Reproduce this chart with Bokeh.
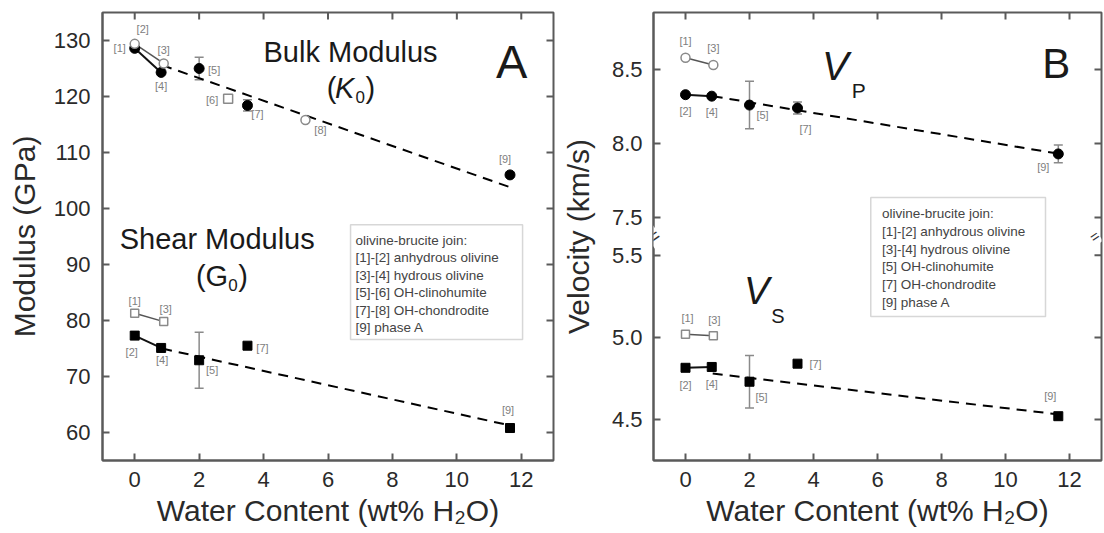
import math
from bokeh.plotting import figure
from bokeh.models import (Range1d, FixedTicker, BoxAnnotation, Whisker,
                          ColumnDataSource, TeeHead, Label)
from bokeh.layouts import row
from bokeh.embed import file_html
from bokeh.resources import INLINE
from bokeh.core.properties import value

FONT = "Liberation Sans"

# ---------------- data ----------------
x_ticks = [0, 2, 4, 6, 8, 10, 12]
modulus_ticks = [60, 70, 80, 90, 100, 110, 120, 130]
vp_ticks = [7.5, 8.0, 8.5]
vs_ticks = [4.5, 5.0, 5.5]

# Bulk modulus K0 (GPa)
bulk_open_ids = ["[1]", "[3]", "[6]", "[8]"]
bulk_open_x = [0.0, 0.9, 2.9, 5.3]
bulk_open_y = [129.4, 125.9, 119.6, 115.8]
bulk_open_marker = ["circle", "circle", "square", "circle"]
bulk_fill_ids = ["[2]", "[4]", "[5]", "[7]", "[9]"]
bulk_fill_x = [0.0, 0.82, 2.0, 3.5, 11.65]
bulk_fill_y = [128.6, 124.3, 125.0, 118.4, 106.0]
bulk_fill_err = [0, 0, 2.0, 1.0, 0]
bulk_trend_x = [0.85, 11.7]
bulk_trend_y = [125.6, 103.7]

# Shear modulus G0 (GPa)
shear_open_ids = ["[1]", "[3]"]
shear_open_x = [0.0, 0.9]
shear_open_y = [81.3, 79.8]
shear_fill_ids = ["[2]", "[4]", "[5]", "[7]", "[9]"]
shear_fill_x = [0.0, 0.82, 2.0, 3.5, 11.65]
shear_fill_y = [77.3, 75.1, 72.9, 75.5, 60.8]
shear_fill_err = [0, 0, 5.0, 0, 0]
shear_trend_x = [0.85, 11.7]
shear_trend_y = [75.0, 61.2]

# Vp (km/s)
vp_open_ids = ["[1]", "[3]"]
vp_open_x = [0.0, 0.87]
vp_open_y = [8.58, 8.53]
vp_fill_ids = ["[2]", "[4]", "[5]", "[7]", "[9]"]
vp_fill_x = [0.0, 0.82, 2.0, 3.5, 11.65]
vp_fill_y = [8.33, 8.32, 8.26, 8.24, 7.93]
vp_fill_err = [0, 0, 0.16, 0.04, 0.06]
vp_trend_x = [0.85, 11.7]
vp_trend_y = [8.32, 7.93]

# Vs (km/s)
vs_open_ids = ["[1]", "[3]"]
vs_open_x = [0.0, 0.87]
vs_open_y = [5.02, 5.01]
vs_fill_ids = ["[2]", "[4]", "[5]", "[7]", "[9]"]
vs_fill_x = [0.0, 0.82, 2.0, 3.5, 11.65]
vs_fill_y = [4.815, 4.82, 4.73, 4.84, 4.52]
vs_fill_err = [0, 0, 0.16, 0, 0]
vs_trend_x = [0.85, 11.7]
vs_trend_y = [4.78, 4.53]

legend_A = ["olivine-brucite join:", "[1]-[2] anhydrous olivine", "[3]-[4] hydrous olivine",
            "[5]-[6] OH-clinohumite", "[7]-[8] OH-chondrodite", "[9] phase A"]
legend_B = ["olivine-brucite join:", "[1]-[2] anhydrous olivine", "[3]-[4] hydrous olivine",
            "[5] OH-clinohumite", "[7] OH-chondrodite", "[9] phase A"]

# ---------------- styling helpers ----------------
AX = "#5a5a5a"
TXT = "#2a2a2a"
LBL = "#808080"


def style_axis(ax, standoff=12, label_standoff=8):
    ax.axis_line_color = AX
    ax.axis_line_width = 2
    ax.major_tick_in = 7
    ax.major_tick_out = 0
    ax.major_tick_line_color = AX
    ax.major_tick_line_width = 2
    ax.minor_tick_line_color = None
    ax.major_label_text_font = FONT
    ax.major_label_text_font_size = "22px"
    ax.major_label_text_color = TXT
    ax.axis_label_text_font = FONT
    ax.axis_label_text_font_size = "30px"
    ax.axis_label_text_font_style = "normal"
    ax.axis_label_text_color = TXT
    ax.major_label_standoff = standoff
    ax.axis_label_standoff = label_standoff


def mirror_ticks(p, xt, yt, range_name="default"):
    """inward tick marks on the top and right frame edges"""
    yr = p.extra_y_ranges[range_name] if range_name != "default" else p.y_range
    p.ray(x=xt, y=[yr.end] * len(xt), length=7, length_units="screen", angle=-math.pi / 2,
          line_color=AX, line_width=2, y_range_name=range_name)
    p.ray(x=[p.x_range.end] * len(yt), y=yt, length=7, length_units="screen", angle=math.pi,
          line_color=AX, line_width=2, y_range_name=range_name)


def draw_series(p, ids, xs, ys, offsets, marker_kw, range_name="default", errs=None, markers=None):
    data = dict(x=xs, y=ys, t=ids, dx=[o[0] for o in offsets], dy=[o[1] for o in offsets])
    if markers is not None:
        data["m"] = markers
    if errs is not None:
        esrc = ColumnDataSource(dict(x=[x for x, e in zip(xs, errs) if e > 0],
                                     lo=[y - e for y, e in zip(ys, errs) if e > 0],
                                     hi=[y + e for y, e in zip(ys, errs) if e > 0]))
        w = Whisker(source=esrc, base="x", lower="lo", upper="hi", dimension="height",
                    line_color="#8a8a8a", line_width=1.5, level="underlay",
                    upper_head=TeeHead(size=9, line_color="#8a8a8a", line_width=1.5),
                    lower_head=TeeHead(size=9, line_color="#8a8a8a", line_width=1.5))
        w.y_range_name = range_name
        p.add_layout(w)
    src = ColumnDataSource(data)
    p.scatter(x="x", y="y", source=src, marker=("m" if markers is not None else marker_kw.pop("marker")),
              y_range_name=range_name, **marker_kw)
    p.text(x="x", y="y", text="t", x_offset="dx", y_offset="dy", source=src,
           y_range_name=range_name, text_font=value(FONT), text_font_size="11px",
           text_color=LBL, text_align="center", text_baseline="middle")


def pair_line(p, xs, ys, color, width, range_name="default"):
    p.line(xs[:2], ys[:2], line_color=color, line_width=width, y_range_name=range_name)


def trend(p, xs, ys, range_name="default"):
    p.line(xs, ys, line_color="black", line_width=2, line_dash="10 7", y_range_name=range_name)


def legend_box(p, left, right, top, bottom, tx, ty, lines, spacing):
    p.add_layout(BoxAnnotation(left=left, right=right, top=top, bottom=bottom,
                               fill_color="white", fill_alpha=1.0,
                               line_color="#7a7a7a", line_width=1.5))
    p.text(x=[tx] * len(lines), y=[ty] * len(lines), text=lines,
           y_offset=[i * spacing for i in range(len(lines))],
           text_font=value(FONT), text_font_size="13.5px", text_color="#444444",
           text_align="left", text_baseline="middle", level="overlay")


def big_text(p, x, y, t, size, style="normal", align="center", dx=0, dy=0, range_name="default"):
    p.text(x=[x], y=[y], text=[t], x_offset=dx, y_offset=dy, y_range_name=range_name,
           text_font=value(FONT), text_font_size=size, text_font_style=style,
           text_color="#1a1a1a", text_align=align, text_baseline="middle")


OPEN_C = dict(size=9, fill_color="white", line_color="#8a8a8a", line_width=1.5)
FILL_C = dict(marker="circle", size=10, fill_color="black", line_color="black")
FILL_S = dict(marker="square", size=9, fill_color="black", line_color="black")
OPEN_S = dict(marker="square", size=8, fill_color="white", line_color="#8a8a8a", line_width=1.5)

# ================= Panel A =================
pA = figure(width=557, height=533, x_range=Range1d(-1, 13), y_range=Range1d(55, 135),
            output_backend="svg", toolbar_location=None,
            min_border_left=102, min_border_right=4, min_border_top=12, min_border_bottom=73,
            outline_line_color=AX, outline_line_width=2)
pA.grid.visible = False
pA.xaxis.ticker = FixedTicker(ticks=x_ticks)
pA.yaxis.ticker = FixedTicker(ticks=modulus_ticks)
pA.xaxis.axis_label = "Water Content (wt% H\u2082O)"
pA.yaxis.axis_label = "Modulus (GPa)"
style_axis(pA.xaxis[0], standoff=11, label_standoff=4)
style_axis(pA.yaxis[0], standoff=12, label_standoff=10)
mirror_ticks(pA, x_ticks, modulus_ticks)

trend(pA, bulk_trend_x, bulk_trend_y)
trend(pA, shear_trend_x, shear_trend_y)
pair_line(pA, bulk_open_x, bulk_open_y, "#555555", 1.5)
pair_line(pA, bulk_fill_x, bulk_fill_y, "#111111", 2)
pair_line(pA, shear_open_x, shear_open_y, "#555555", 1.5)
pair_line(pA, shear_fill_x, shear_fill_y, "#111111", 2)

draw_series(pA, bulk_fill_ids, bulk_fill_x, bulk_fill_y,
            [(8, -19), (0, 14), (15, 1), (10, 9), (-5, -16)], dict(FILL_C), errs=bulk_fill_err)
draw_series(pA, bulk_open_ids, bulk_open_x, bulk_open_y,
            [(-15, 4), (0, -13), (-16, 1), (15, 10)], dict(OPEN_C), markers=bulk_open_marker)
draw_series(pA, shear_fill_ids, shear_fill_x, shear_fill_y,
            [(-3, 16), (1, 12), (13, 10), (15, 2), (-2, -18)], dict(FILL_S), errs=shear_fill_err)
draw_series(pA, shear_open_ids, shear_open_x, shear_open_y,
            [(0, -12), (2, -13)], dict(OPEN_S))

big_text(pA, 6.7, 128.0, "Bulk Modulus", "29px")
big_text(pA, 6.82, 121.6, "K", "29px", style="italic", align="right")
big_text(pA, 6.82, 121.6, "(", "29px", align="right", dx=-18)
big_text(pA, 6.82, 121.6, "0", "17px", align="left", dx=1, dy=9)
big_text(pA, 6.82, 121.6, ")", "29px", align="left", dx=11)
big_text(pA, 11.7, 126.3, "A", "47px")
big_text(pA, 2.56, 94.5, "Shear Modulus", "29px")
big_text(pA, 2.9, 88.0, "(G", "29px", align="right")
big_text(pA, 2.9, 88.0, "0", "17px", align="left", dx=0, dy=9)
big_text(pA, 2.9, 88.0, ")", "29px", align="left", dx=10)

legend_box(pA, 6.70, 12.04, 97.1, 76.6, 6.85, 94.3, legend_A, 17.4)

# ================= Panel B =================
VS_LO, VS_HI = 4.25, 6.98
VP_LO, VP_HI = 5.86, 8.885


def vp_pos(v):
    return round(VS_LO + (v - VP_LO) * (VS_HI - VS_LO) / (VP_HI - VP_LO), 6)


y_tick_pos = vs_ticks + [vp_pos(v) for v in vp_ticks]
y_tick_text = {t: f"{t:.1f}" for t in vs_ticks}
y_tick_text.update({vp_pos(v): f"{v:.1f}" for v in vp_ticks})

pB = figure(width=547, height=533, x_range=Range1d(-1, 13), y_range=Range1d(VS_LO, VS_HI),
            output_backend="svg", toolbar_location=None,
            min_border_left=96, min_border_right=3, min_border_top=12, min_border_bottom=73,
            outline_line_color=AX, outline_line_width=2)
pB.extra_y_ranges = {"vp": Range1d(VP_LO, VP_HI)}
pB.grid.visible = False
pB.xaxis.ticker = FixedTicker(ticks=x_ticks)
pB.yaxis.ticker = FixedTicker(ticks=y_tick_pos)
pB.yaxis.major_label_overrides = y_tick_text
pB.xaxis.axis_label = "Water Content (wt% H\u2082O)"
pB.yaxis.axis_label = "Velocity (km/s)"
style_axis(pB.xaxis[0], standoff=11, label_standoff=4)
style_axis(pB.yaxis[0], standoff=11, label_standoff=14)
mirror_ticks(pB, x_ticks, y_tick_pos)

trend(pB, vp_trend_x, vp_trend_y, "vp")
trend(pB, vs_trend_x, vs_trend_y)
pair_line(pB, vp_open_x, vp_open_y, "#555555", 1.5, "vp")
pair_line(pB, vp_fill_x, vp_fill_y, "#111111", 2, "vp")
pair_line(pB, vs_open_x, vs_open_y, "#555555", 1.5)
pair_line(pB, vs_fill_x, vs_fill_y, "#111111", 2)

draw_series(pB, vp_fill_ids, vp_fill_x, vp_fill_y,
            [(0, 16), (0, 16), (13, 10), (8, 21), (-15, 13)], dict(FILL_C), "vp", errs=vp_fill_err)
draw_series(pB, vp_open_ids, vp_open_x, vp_open_y, [(0, -17), (0, -17)],
            dict(OPEN_C, marker="circle"), "vp")
draw_series(pB, vs_fill_ids, vs_fill_x, vs_fill_y,
            [(0, 17), (0, 17), (12, 15), (18, 0), (-8, -20)], dict(FILL_S), errs=vs_fill_err)
draw_series(pB, vs_open_ids, vs_open_x, vs_open_y, [(2, -16), (1, -16)], dict(OPEN_S))

big_text(pB, 5.1, 8.527, "V", "40px", style="italic", align="right", range_name="vp")
big_text(pB, 5.1, 8.527, "P", "21px", align="left", dx=3, dy=25, range_name="vp")
big_text(pB, 11.59, 8.54, "B", "42px", range_name="vp")
big_text(pB, 2.62, 5.28, "V", "38px", style="italic", align="right")
big_text(pB, 2.62, 5.28, "S", "20px", align="left", dx=2, dy=25)

legend_box(pB, 5.79, 11.25, 5.853, 5.127, 6.14, 5.755, legend_B, 17.8)

BREAK_Y = 5.616
for bx, off, fs in ((-1, 0, "20px"), (13, -7, "15px")):
    pB.add_layout(Label(x=bx, y=BREAK_Y, x_offset=off, text="=", angle=0.6, text_font=FONT,
                        text_font_size=fs, text_color="#333333",
                        text_align="center", text_baseline="middle",
                        background_fill_color="white", level="overlay"))

layout = row(pA, pB)
open("out.html", "w").write(file_html(layout, INLINE))
